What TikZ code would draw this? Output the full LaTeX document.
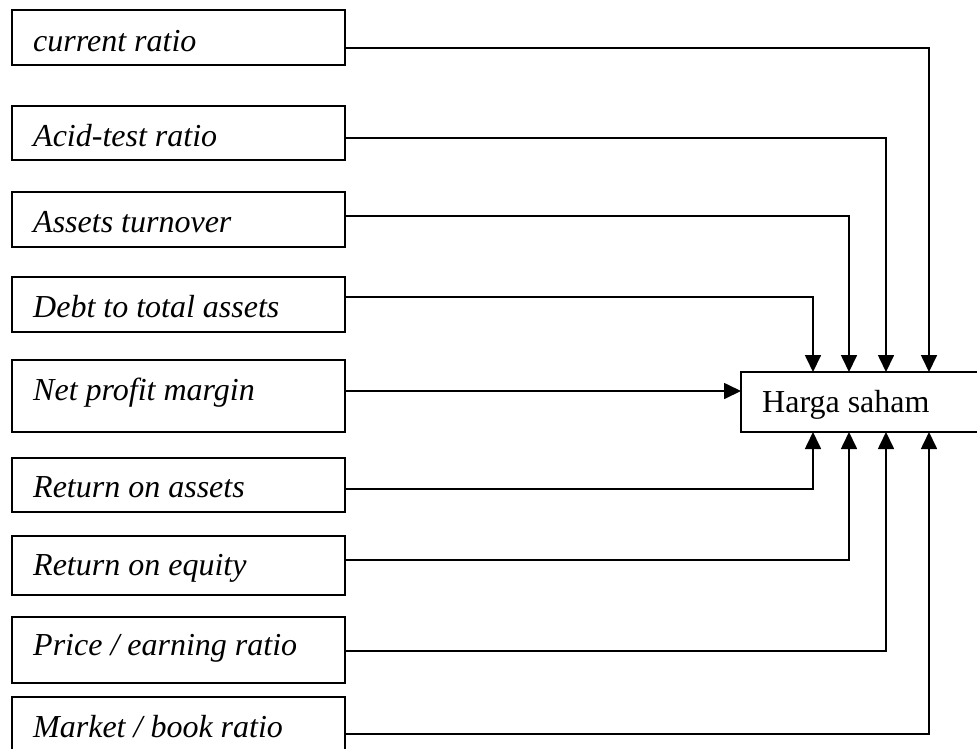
\documentclass[tikz,border=0pt]{standalone}
\usepackage{fontspec}
\setmainfont{Liberation Serif}
\usetikzlibrary{arrows.meta}
\begin{document}
\begin{tikzpicture}[x=1pt,y=-1pt,
  box/.style={draw,line width=1.7pt,minimum width=333pt,inner sep=0pt,outer sep=0pt,anchor=north west},
  lbl/.style={anchor=base west,inner sep=0pt,font=\fontsize{32}{32}\selectfont\itshape},
  arr/.style={line width=1.7pt,-{Triangle[width=16pt,length=17pt]}}]
\useasboundingbox (0,0) rectangle (977,748);
% boxes
\node[box,minimum height=55pt] (b1) at (12,10) {};
\node[box,minimum height=54pt] (b2) at (12,106) {};
\node[box,minimum height=55pt] (b3) at (12,192) {};
\node[box,minimum height=55pt] (b4) at (12,277) {};
\node[box,minimum height=72pt] (b5) at (12,360) {};
\node[box,minimum height=54pt] (b6) at (12,458) {};
\node[box,minimum height=59pt] (b7) at (12,536) {};
\node[box,minimum height=66pt] (b8) at (12,617) {};
\node[box,minimum height=70pt] (b9) at (12,697) {};
% labels
\node[lbl] (t1) at (33,51) {current ratio};
\node[lbl] (t2) at (33,146) {Acid-test ratio};
\node[lbl] (t3) at (33,232) {Assets turnover};
\node[lbl] (t4) at (33,317) {Debt to total assets};
\node[lbl] (t5) at (33,400) {Net profit margin};
\node[lbl] (t6) at (33,497) {Return on assets};
\node[lbl] (t7) at (33,575) {Return on equity};
\node[lbl] (t8) at (33,655) {Price / earning ratio};
\node[lbl] (t9) at (33,737) {Market / book ratio};
% target
\node[draw,line width=1.7pt,minimum width=245pt,minimum height=60pt,inner sep=0pt,outer sep=0pt,anchor=north west] (h) at (741,372) {};
\node[anchor=base west,inner sep=0pt,font=\fontsize{32}{32}\selectfont] (ht) at (762,412) {Harga saham};
% connectors
\draw[arr] (b1.east |- 0,48) -| (h.north -| 929,0);
\draw[arr] (b2.east |- 0,138) -| (h.north -| 886,0);
\draw[arr] (b3.east |- 0,216) -| (h.north -| 849,0);
\draw[arr] (b4.east |- 0,297) -| (h.north -| 813,0);
\draw[arr] (b5.east |- 0,391) -- (h.west |- 0,391);
\draw[arr] (b6.east |- 0,489) -| (h.south -| 813,0);
\draw[arr] (b7.east |- 0,560) -| (h.south -| 849,0);
\draw[arr] (b8.east |- 0,651) -| (h.south -| 886,0);
\draw[arr] (b9.east |- 0,734) -| (h.south -| 929,0);
\end{tikzpicture}
\end{document}
